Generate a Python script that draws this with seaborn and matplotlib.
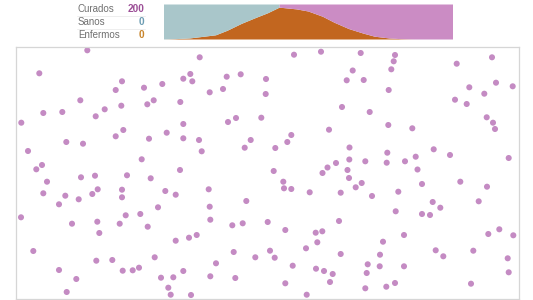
import numpy as np
import pandas as pd
import matplotlib
matplotlib.use("Agg")
import matplotlib.pyplot as plt
import seaborn as sns

# ---- data ----
labels = ["Curados", "Sanos", "Enfermos"]
counts = [200, 0, 0]

# epidemic history (percent of population)
dias = [0, 4, 9, 13, 18, 22, 27, 32, 36, 40, 40, 46, 50, 55, 59, 64, 69, 73, 78, 82, 87, 100]
enfermos_pct = [0, 1, 3, 7, 12, 25, 45, 62, 75, 91, 91, 86, 80, 65, 48, 30, 17, 8, 3, 1, 0, 0]
sanos_pct = [100, 99, 97, 93, 88, 75, 55, 38, 25, 9, 0, 0, 0, 0, 0, 0, 0, 0, 0, 0, 0, 0]
curados_pct = [0, 0, 0, 0, 0, 0, 0, 0, 0, 0, 9, 14, 20, 35, 52, 70, 83, 92, 97, 99, 100, 100]

# positions of the 200 people in the room
pos_x = [87.3, 39.3, 122, 115.7, 144, 162.3, 183.3, 190.3, 192.3, 80.3, 104.7, 121.3, 147.3, 153.7, 180.3,
         43.3, 62.3, 95.7, 21.3, 183.3, 123.3, 115.7, 166.7, 149, 183.3, 66.3, 83, 28, 141.7, 42,
         36.3, 180, 199.7, 294, 321, 226.7, 240.7, 266, 346.7, 352.7, 209.7, 223, 265.7, 342, 228,
         236, 261.3, 329, 199, 201.7, 250.7, 244.7, 291.3, 287.3, 275.3, 349.5, 349.3, 336, 327.5, 322.5,
         347.5, 273.7, 360.7, 395, 393.7, 391.3, 363.7, 388.7, 456.7, 492, 469.3, 496, 512.7, 484.3, 455,
         466.7, 369.7, 388.3, 412.3, 486.7, 493, 495, 365.3, 387.3, 386.7, 405, 415.7, 433.7, 450, 508.7,
         417.5, 81, 95, 127, 150.7, 47, 43.3, 65.3, 59, 78.7, 92.3, 97.7, 122, 122, 165.3,
         175.7, 158, 21, 72, 97.3, 99.3, 119.7, 125.7, 140.3, 147.7, 175.7, 33.3, 96.3, 112.3, 154.7,
         59, 122.7, 132.7, 139, 183.3, 76.3, 161, 173.3, 168.3, 170.7, 66.7, 349, 208.7, 283.3, 284,
         291.3, 309.7, 340.7, 246.3, 209.7, 210.3, 232.3, 242.7, 267.7, 285.3, 315.7, 322.3, 339, 317.3, 189,
         196.7, 233.7, 255.3, 270, 274.7, 306, 340.7, 216, 210.3, 235.3, 292.7, 316, 324, 332.7, 330,
         285.3, 191, 306.7, 355.7, 361.7, 372, 398.3, 422, 460.3, 487, 478.7, 432.7, 440.3, 395.7, 422,
         430, 404, 383, 488.3, 499.3, 513.3, 380, 367.7, 379.7, 404, 366.7, 435.7, 443.3, 473.3, 507.7,
         508.7, 365.3, 386.3, 395, 471]
pos_y = [50.3, 73.3, 81.3, 90, 87.7, 84, 78.7, 74, 81.3, 100.3, 109.3, 105.7, 104.3, 100.3, 102,
         113, 112, 116.3, 122.7, 124, 130, 136.3, 132.7, 138.7, 138.3, 142, 143.7, 151, 159.3, 165,
         169.3, 170, 57.3, 54.7, 51.7, 76.7, 74.3, 79, 80.3, 70.5, 92.3, 89, 94, 107, 122,
         118, 117.7, 129.7, 140, 151.3, 140, 147.7, 135, 142, 148, 147.5, 159.5, 163, 167.5, 173,
         170, 171, 53, 55, 61.3, 69.3, 80, 90, 63.7, 57.3, 87.3, 82.7, 86.3, 93.7, 99.7,
         104, 112, 125, 128.3, 117.3, 122.7, 129, 161.3, 152.7, 162.7, 161.3, 156.7, 149.3, 155, 158,
         169.5, 177.3, 175.7, 175.3, 178.3, 181.7, 193.3, 195.7, 204.3, 199.3, 194, 189.3, 189.7, 197.3, 191,
         194.7, 207.3, 217.3, 223.7, 221.7, 233, 223.7, 215.3, 214, 226.7, 240.7, 251, 260.7, 260, 257.3,
         270, 270.7, 270.3, 267.7, 271, 279, 277.7, 277.3, 287.7, 294.7, 292, 178, 189.3, 181.7, 188.3,
         189, 192.3, 192.7, 201, 206.7, 219.7, 225.3, 223.3, 222, 230, 232.7, 231.3, 221, 242.3, 237.7,
         235, 252, 257.3, 250.7, 257.7, 248.3, 254, 263.3, 276.3, 278, 265.7, 268.7, 271, 274, 282,
         283.3, 295, 294.7, 187.3, 183, 196, 191.7, 184, 181.7, 186.7, 201.3, 202, 207.7, 211.3, 214,
         215, 235, 241.7, 234, 229.3, 235.3, 254.7, 264.3, 266.3, 266.3, 273, 250.3, 256.3, 250.7, 258.3,
         272.3, 288.3, 286.7, 283, 283.7]
estado = ["Curado"] * len(pos_x)

# ---- styling ----
C_SANO = "#a9c6ca"
C_ENF = "#c2661f"
C_CUR = "#cb8cc4"
C_DOT = "#c48bc3"
NUM_COLORS = ["#9c4f97", "#6d9db3", "#c8852c"]

sns.set_theme(style="white")
plt.rcParams["font.family"] = ["Liberation Sans", "DejaVu Sans"]

W, H = 533, 300
fig = plt.figure(figsize=(W / 100, H / 100), dpi=100)
fig.patch.set_facecolor("white")

def fx(px):
    return px / W

def fy(py):
    return 1 - py / H

# main room
ax = fig.add_axes([fx(16), fy(299), fx(519) - fx(16), fy(47) - fy(299)])
df = pd.DataFrame({"x": pos_x, "y": pos_y, "estado": estado})
sns.scatterplot(data=df, x="x", y="y", hue="estado", palette={"Curado": C_DOT},
                s=19, linewidth=0, legend=False, ax=ax)
ax.set_xlim(16, 519)
ax.set_ylim(299, 47)
ax.set_xticks([])
ax.set_yticks([])
ax.set_xlabel("")
ax.set_ylabel("")
for sp in ax.spines.values():
    sp.set_color("#d6d6d6")
    sp.set_linewidth(0.9)

# stacked area history
ax2 = fig.add_axes([fx(163.5), fy(39), fx(452.5) - fx(163.5), fy(4) - fy(39)])
ax2.stackplot(dias, enfermos_pct, sanos_pct, curados_pct,
              colors=[C_ENF, C_SANO, C_CUR], linewidth=0)
ax2.set_xlim(min(dias), max(dias))
ax2.set_ylim(0, 100)
ax2.set_xticks([])
ax2.set_yticks([])
for sp in ax2.spines.values():
    sp.set_visible(False)

# counters
rows_y = [9, 22, 35]
for lab, cnt, col, yy in zip(labels, counts, NUM_COLORS, rows_y):
    fig.text(fx(78), fy(yy), lab, ha="left", va="center", fontsize=7, color="#707070")
    fig.text(fx(144.5), fy(yy), str(cnt), ha="right", va="center", fontsize=7.3,
             fontweight="bold", color=col)
for yy in [15.5, 28.5]:
    fig.add_artist(plt.Line2D([fx(77), fx(145)], [fy(yy), fy(yy)], color="#ebebeb", linewidth=0.6))

fig.savefig("out.png", dpi=100, facecolor="white")
